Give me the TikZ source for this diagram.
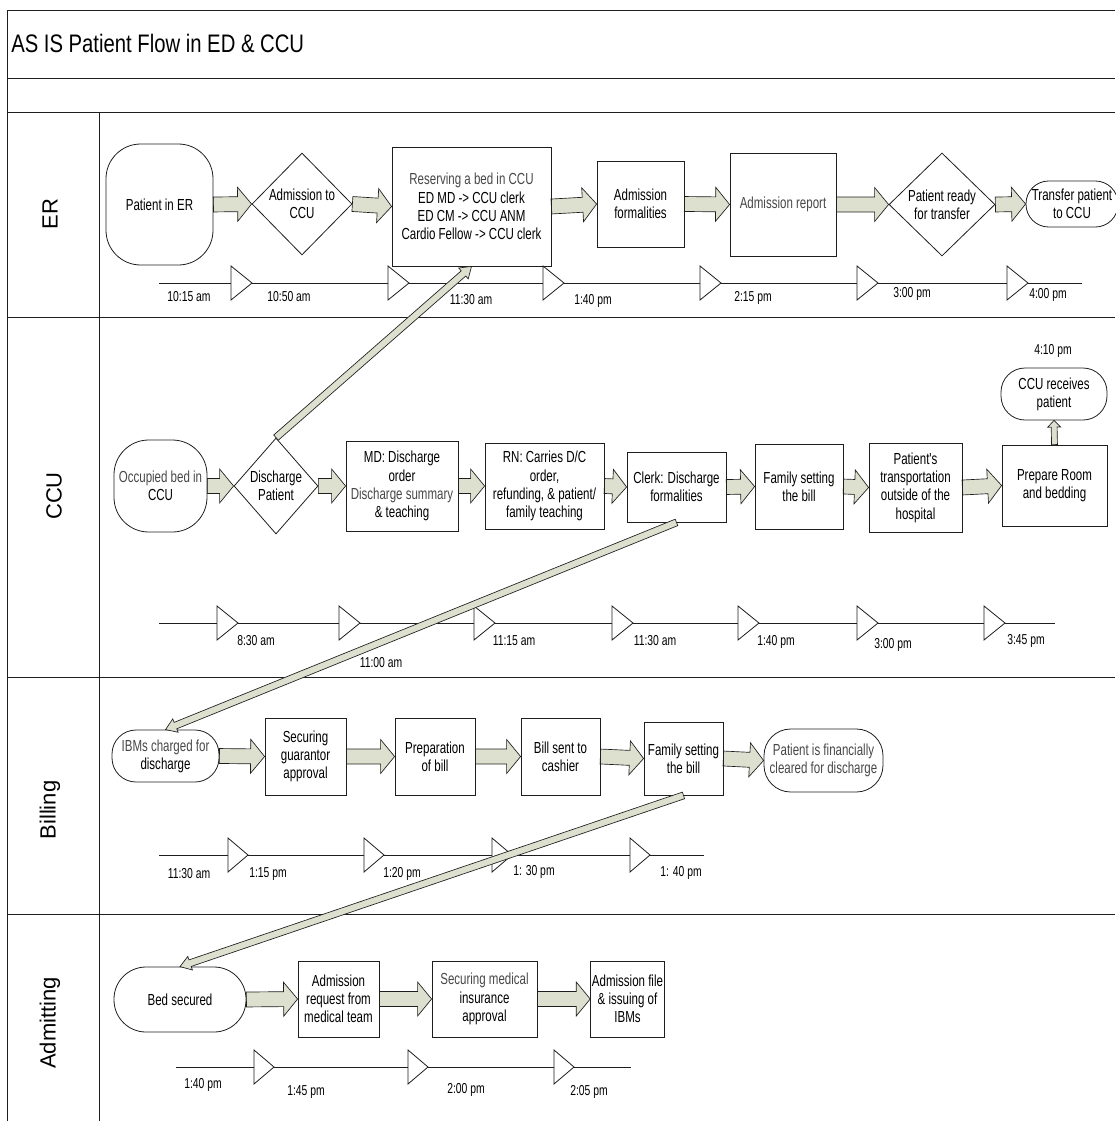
\documentclass[tikz,border=0pt]{standalone}
\usepackage{fontspec}
\setmainfont{Liberation Sans}
\newfontfamily\narrowfont[FakeStretch=0.72]{Liberation Sans}
\newfontfamily\titlefont[FakeStretch=0.8]{Liberation Sans}
\usetikzlibrary{shapes.geometric,calc,backgrounds}
\definecolor{flowfill}{RGB}{221,224,206}
\definecolor{lineblack}{RGB}{30,30,30}
\newcommand{\lite}[1]{\textcolor{black!72}{#1}}
% block arrow between two anchors: from, to, shaft half width, head half width, head length
\newcommand{\flowarrow}[5]{%
  \filldraw[flow] let \p1=(#1), \p2=(#2),
      \n1={atan2(\y2-\y1,\x2-\x1)}, \n2={veclen(\x2-\x1,\y2-\y1)} in
    ([shift={(\p1)},rotate=\n1]0pt,-#3) -- ([shift={(\p1)},rotate=\n1]\n2*1pt-#5,-#3)
    -- ([shift={(\p1)},rotate=\n1]\n2*1pt-#5,-#4) -- ([shift={(\p1)},rotate=\n1]\n2*1pt,0pt)
    -- ([shift={(\p1)},rotate=\n1]\n2*1pt-#5,#4) -- ([shift={(\p1)},rotate=\n1]\n2*1pt-#5,#3)
    -- ([shift={(\p1)},rotate=\n1]0pt,#3) -- cycle;}
\newcommand{\bigflow}[2]{\flowarrow{#1}{#2}{5.6pt}{12.75pt}{10.5pt}}
\newcommand{\longflow}[2]{\flowarrow{#1}{#2}{2.6pt}{5.4pt}{8pt}}

\begin{document}
\begin{tikzpicture}[
  x=0.75pt, y=-0.75pt,
  frame/.style={draw=lineblack, line width=0.7pt},
  box/.style={draw=lineblack, line width=0.6pt, align=center, inner sep=1pt,
    font=\narrowfont\fontsize{12}{13.7}\selectfont},
  term/.style={box, rounded corners=#1},
  term/.default=18pt,
  decide/.style={box, diamond, inner sep=0pt},
  dims/.style 2 args={minimum width=#1*0.75pt, minimum height=#2*0.75pt},
  flow/.style={fill=flowfill, draw=lineblack, line width=0.5pt},
  tline/.style={draw=lineblack, line width=0.6pt},
  tick/.style={draw=lineblack, fill=white, line width=0.6pt},
  time/.style={inner sep=0pt, font=\narrowfont\fontsize{10.8}{12}\selectfont},
  lane/.style={rotate=90, inner sep=0pt, font=\fontsize{16.5}{18}\selectfont}
]
\useasboundingbox (0,0) rectangle (1115,1121);

% FRAME
\draw[frame] (7,1121) -- (7,10) -- (1115,10);
\draw[frame] (7,78) -- (1115,78);
\draw[frame] (7,112) -- (1115,112);
\draw[frame] (7,317) -- (1115,317);
\draw[frame] (7,677) -- (1115,677);
\draw[frame] (7,914) -- (1115,914);
\draw[frame] (99,112) -- (99,1121);
\node[anchor=west, inner sep=0pt, font=\titlefont\fontsize{19}{22}\selectfont] (title) at (11,43) {AS IS Patient Flow in ED \& CCU};
\node[lane] (lER) at (50,214) {ER};
\node[lane] (lCCU) at (54,496) {CCU};
\node[lane] (lBill) at (50,810) {Billing};
\node[lane] (lAdm) at (50,1023) {Admitting};

% ER LANE
\node[term=26pt, dims={107}{121}] (per) at (159.5,204.5) {Patient in ER};
\node[decide, dims={100}{102}] (adm) at (302,204) {Admission to\\CCU};
\node[box, dims={159}{119}] (res) at (471.5,206.5) {\lite{Reserving a bed in CCU}\\ED MD -> CCU clerk\\ED CM -> CCU ANM\\Cardio Fellow -> CCU clerk};
\node[box, dims={87}{86}] (af) at (640.5,204) {Admission\\formalities};
\node[box, dims={106}{103}] (ar) at (783,204.5) {\lite{Admission report}};
\node[decide, dims={106}{103}] (prt) at (942,204.5) {Patient ready\\for transfer};
\node[term=17pt, dims={92}{46}] (tra) at (1072,204) {Transfer patient\\to CCU};

\draw[tline] (159,283) -- (1082,283);
\foreach \tx in {231,388,543,700,857,1007}
  \filldraw[tick] (\tx,266) -- (\tx+21,283) -- (\tx,300) -- cycle;
\node[time] (e1) at (189,297) {10:15 am};
\node[time] (e2) at (289,297) {10:50 am};
\node[time] (e3) at (471,300) {11:30 am};
\node[time] (e4) at (593,301) {1:40 pm};
\node[time] (e5) at (753,298) {2:15 pm};
\node[time] (e6) at (912,294) {3:00 pm};
\node[time] (e7) at (1048,295) {4:00 pm};

% CCU LANE
\node[term=26pt, dims={93}{92}] (occ) at (160.5,486) {\lite{Occupied bed in}\\CCU};
\node[decide, dims={84}{96}] (dis) at (276,486) {Discharge\\Patient};
\node[box, dims={112}{90}] (md) at (402,486) {MD: Discharge\\order\\\lite{Discharge summary}\\\& teaching};
\node[box, dims={119}{86}] (rn) at (544.5,486) {RN: Carries D/C\\order,\\refunding, \& patient/\\family teaching};
\node[box, dims={99}{70}] (clk) at (676.5,487) {Clerk: Discharge\\formalities};
\node[box, dims={88}{85}] (fam) at (799,486.5) {Family setting\\the bill};
\node[box, dims={93}{89}] (trn) at (915.5,487.5) {Patient's\\transportation\\outside of the\\hospital};
\node[box, dims={105}{81}] (prep) at (1054.5,485.5) {Prepare Room\\and bedding};
\node[term=18pt, dims={106}{52}] (rec) at (1054,394) {CCU receives\\patient};
\node[time] (c0) at (1053,351) {4:10 pm};

\draw[tline] (159,623) -- (1055,623);
\foreach \tx in {217,339,474,612,738,857,984}
  \filldraw[tick] (\tx,606) -- (\tx+21,623) -- (\tx,640) -- cycle;
\node[time] (c1) at (256,641) {8:30 am};
\node[time] (c2) at (381,663) {11:00 am};
\node[time] (c3) at (514,641) {11:15 am};
\node[time] (c4) at (655,641) {11:30 am};
\node[time] (c5) at (776,642) {1:40 pm};
\node[time] (c6) at (893,645) {3:00 pm};
\node[time] (c7) at (1026,641) {3:45 pm};

% BILLING LANE
\node[term=18pt, dims={107}{52}] (ibm) at (165.5,756) {\lite{IBMs charged for}\\discharge};
\node[box, dims={81}{77}] (gua) at (305.5,756.5) {Securing\\guarantor\\approval};
\node[box, dims={80}{77}] (prb) at (435,756.5) {Preparation\\of bill};
\node[box, dims={79}{77}] (bsc) at (560.5,756.5) {Bill sent to\\cashier};
\node[box, dims={79}{73}] (fsb) at (683.5,758.5) {Family setting\\the bill};
\node[term=20pt, dims={119}{63}] (fin) at (823.5,760.5) {\lite{Patient is financially}\\\lite{cleared for discharge}};

\draw[tline] (159,855) -- (704,855);
\foreach \tx in {228,364,492,630}
  \filldraw[tick] (\tx,838) -- (\tx+20,855) -- (\tx,872) -- cycle;
\node[time] (b1) at (189,874) {11:30 am};
\node[time] (b2) at (268,874) {1:15 pm};
\node[time] (b3) at (402,874) {1:20 pm};
\node[time] (b4) at (534,872) {1: 30 pm};
\node[time] (b5) at (681,873) {1: 40 pm};

% ADMITTING LANE
\node[term=24pt, dims={132}{65}] (bed) at (180,999.5) {Bed secured};
\node[box, dims={81}{76}] (arq) at (338.5,999) {Admission\\request from\\medical team};
\node[box, dims={105}{76}] (smi) at (484.5,999) {\lite{Securing medical}\\insurance\\approval};
\node[box, dims={71}{76}] (afi) at (627.5,999) {Admission file\\\& issuing of\\IBMs};

\draw[tline] (176,1067) -- (631,1067);
\foreach \tx in {254,408,554}
  \filldraw[tick] (\tx,1050) -- (\tx+20,1067) -- (\tx,1084) -- cycle;
\node[time] (a1) at (203,1085) {1:40 pm};
\node[time] (a2) at (306,1092) {1:45 pm};
\node[time] (a3) at (466,1090) {2:00 pm};
\node[time] (a4) at (589,1092) {2:05 pm};

% FLOW ARROWS
\begin{scope}[on background layer]
  \bigflow{per.east}{adm.west}
  \bigflow{adm.east}{res.west}
  \bigflow{res.east}{af.west}
  \bigflow{af.east}{ar.west}
  \bigflow{ar.east}{prt.west}
  \bigflow{prt.east}{tra.west}
  \bigflow{occ.east}{dis.west}
  \bigflow{dis.east}{md.west}
  \bigflow{md.east}{rn.west}
  \bigflow{rn.east}{clk.west}
  \bigflow{clk.east}{fam.west}
  \bigflow{fam.east}{trn.west}
  \bigflow{trn.east}{prep.west}
  \bigflow{ibm.east}{gua.west}
  \bigflow{gua.east}{prb.west}
  \bigflow{prb.east}{bsc.west}
  \bigflow{bsc.east}{fsb.west}
  \bigflow{fsb.east}{fin.west}
  \bigflow{bed.east}{arq.west}
  \bigflow{arq.east}{smi.west}
  \bigflow{smi.east}{afi.west}
\end{scope}
\flowarrow{prep.north}{rec.south}{2.2pt}{4.8pt}{5pt}

% HAND-OFFS BETWEEN LANES
\longflow{dis.north}{res.south}
\longflow{clk.south}{ibm.north}
\longflow{fsb.south}{bed.north}

\end{tikzpicture}
\end{document}
